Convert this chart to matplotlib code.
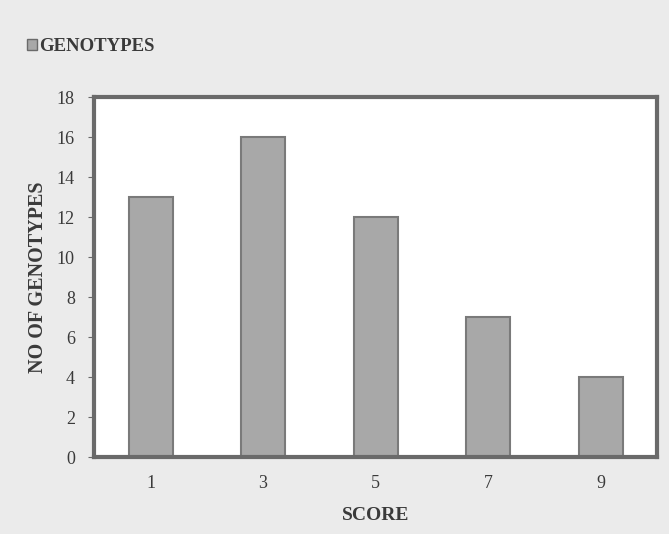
import matplotlib
matplotlib.use("Agg")
from matplotlib import pyplot as plt
from matplotlib.patches import Patch

scores = ["1", "3", "5", "7", "9"]
genotypes = [13, 16, 12, 7, 4]

plt.rcParams['font.family'] = ['Liberation Serif', 'DejaVu Serif']

fig = plt.figure(figsize=(6.69, 5.34), dpi=100, facecolor='#ebebeb')
ax = fig.add_axes([0.141, 0.144, 0.841, 0.674])
ax.set_facecolor('white')

bars = ax.bar(scores, genotypes, width=0.39, color='#a8a8a8',
              edgecolor='#7a7a7a', linewidth=1.5)

ax.set_xlim(-0.5, 4.5)
ax.set_ylim(0, 18)
ax.set_yticks(range(0, 19, 2))

for s in ax.spines.values():
    s.set_linewidth(3)
    s.set_color('#6a6a6a')

ax.tick_params(axis='y', direction='out', length=4, pad=10, color='#6a6a6a',
               labelsize=13, labelcolor='#3a3a3a')
ax.tick_params(axis='x', length=0, pad=13, labelsize=13, labelcolor='#3a3a3a')

ax.set_xlabel("SCORE", fontsize=14, fontweight='bold', color='#3a3a3a', labelpad=11)
ax.set_ylabel("NO OF GENOTYPES", fontsize=14.5, fontweight='bold', color='#3a3a3a', labelpad=6)

fig.legend(handles=[Patch(facecolor='#a8a8a8', edgecolor='#6a6a6a')],
           labels=["GENOTYPES"], loc='upper left', bbox_to_anchor=(0.015, 0.96),
           frameon=False, handlelength=0.55, handleheight=0.55, handletextpad=0.1,
           prop={'size': 13.5, 'weight': 'bold'}, labelcolor='#3a3a3a')

plt.savefig("out.png", dpi=100, facecolor=fig.get_facecolor())
